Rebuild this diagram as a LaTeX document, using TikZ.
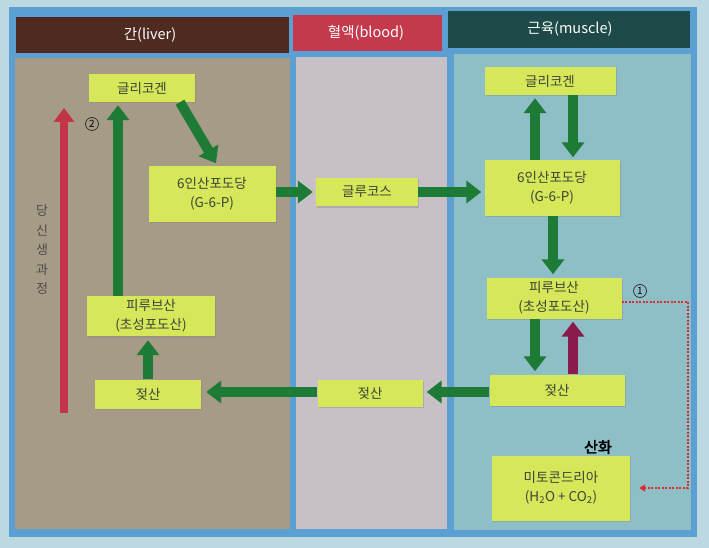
\documentclass[tikz,border=0pt]{standalone}
\usepackage{fontspec}
\setmainfont{Noto Sans CJK KR}
\newfontfamily\handfont[FakeBold=3]{Noto Sans CJK KR}
\usetikzlibrary{arrows.meta,shadows,calc}
\definecolor{outerbg}{HTML}{BCD8E0}
\definecolor{framebl}{HTML}{5B9FD3}
\definecolor{liverhd}{HTML}{4E2A20}
\definecolor{bloodhd}{HTML}{C43A4C}
\definecolor{musclehd}{HTML}{1D4A48}
\definecolor{liverbg}{HTML}{A69B87}
\definecolor{bloodbg}{HTML}{C7C0C7}
\definecolor{musclebg}{HTML}{8EBEC6}
\definecolor{boxfill}{HTML}{D6E75A}
\definecolor{boxtext}{HTML}{3C4438}
\definecolor{arrgreen}{HTML}{1E7B35}
\definecolor{arrred}{HTML}{C23448}
\definecolor{arrmaroon}{HTML}{8A1C4C}
\definecolor{dotred}{HTML}{D83030}
\tikzset{
  box/.style={fill=boxfill, text=boxtext, align=center, inner sep=0pt,
    font=\fontsize{13.5}{19}\selectfont,
    drop shadow={shadow xshift=1pt, shadow yshift=-1.5pt, opacity=0.35}},
  hdr/.style={text=white, font=\fontsize{14.5}{16}\selectfont},
  garrow/.style={draw=arrgreen, line width=10pt, -{Triangle[width=22pt,length=15pt]}},
  rarrow/.style={draw=arrred, line width=8pt, -{Triangle[width=20pt,length=14pt]}},
  marrow/.style={draw=arrmaroon, line width=10pt, -{Triangle[width=22pt,length=15pt]}},
  handcirc/.style={draw=black!80, circle, line width=0.8pt, inner sep=0.5pt,
    minimum size=13pt, font=\fontsize{10}{10}\selectfont},
}
\begin{document}
\begin{tikzpicture}[x=1pt,y=-1pt]
\useasboundingbox (0,0) rectangle (709,548);
\fill[outerbg] (0,0) rectangle (709,548);
% blue frame
\fill[framebl] (9,7) rectangle (697,537);
% headers
\fill[liverhd] (16,17) rectangle (289,53);
\fill[bloodhd] (293,15) rectangle (442,51);
\fill[musclehd] (448,11) rectangle (690,48);
\node[hdr] (hliver) at (150,35) {간(liver)};
\node[hdr] (hblood) at (366,33) {혈액(blood)};
\node[hdr] (hmuscle) at (570,29) {근육(muscle)};
% panels
\fill[liverbg] (15,58) rectangle (290,529);
\fill[bloodbg] (296,57) rectangle (447,529);
\fill[musclebg] (454,54) rectangle (691,530);

% liver nodes
\node[box, minimum width=106pt, minimum height=28pt] (lgly) at (142,88) {글리코겐};
\node[box, minimum width=127pt, minimum height=55pt] (lg6p) at (212,194) {6인산포도당\\(G-6-P)};
\node[box, minimum width=128pt, minimum height=40pt] (lpyr) at (151,316) {피루브산\\(초성포도산)};
\node[box, minimum width=106pt, minimum height=29pt] (llac) at (148,394) {젖산};
% blood nodes
\node[box, minimum width=102pt, minimum height=28pt] (glu) at (367,192) {글루코스};
\node[box, minimum width=105pt, minimum height=27pt] (blac) at (370,393) {젖산};
% muscle nodes
\node[box, minimum width=131pt, minimum height=28pt] (mgly) at (550,81) {글리코겐};
\node[box, minimum width=135pt, minimum height=55pt] (mg6p) at (552,188) {6인산포도당\\(G-6-P)};
\node[box, minimum width=135pt, minimum height=41pt] (mpyr) at (554,298) {피루브산\\(초성포도산)};
\node[box, minimum width=135pt, minimum height=31pt] (mlac) at (557,390) {젖산};
\node[box, minimum width=138pt, minimum height=65pt] (mito) at (561,488) {미토콘드리아\\(H\textsubscript{2}O + CO\textsubscript{2})};

% x / y guide coordinates for straight arrows
\coordinate (xl1) at (118,0);
\coordinate (xl2) at (148,0);
\coordinate (yglu) at (0,192);
\coordinate (xm1) at (535,0);
\coordinate (xm2) at (573,0);
\coordinate (xm3) at (553,0);
\coordinate (ylac) at (0,392);

% liver arrows
\draw[garrow] ([xshift=38pt]lgly.south) -- ([xshift=4pt,yshift=3pt]lg6p.north);
\draw[garrow] (lpyr.north -| xl1) -- ([yshift=-3pt]lgly.south -| xl1);
\draw[garrow] (llac.north -| xl2) -- ([yshift=-4pt]lpyr.south -| xl2);
% gluconeogenesis
\coordinate (gnbot) at (64,413);
\coordinate (gntop) at (64,108);
\draw[rarrow] (gnbot) -- (gntop);
\node[text=black!70, align=center, font=\fontsize{13}{19.5}\selectfont] (gnlabel) at (42,250) {당\\신\\생\\과\\정};
\node[handcirc] (h2) at (92,124) {2};
% liver -> blood -> muscle glucose
\draw[garrow] (lg6p.east |- yglu) -- ([xshift=-3pt]glu.west |- yglu);
\draw[garrow] (glu.east |- yglu) -- ([xshift=-3pt]mg6p.west |- yglu);
% muscle
\draw[garrow] (mg6p.north -| xm1) -- ([yshift=-3pt]mgly.south -| xm1);
\draw[garrow] (mgly.south -| xm2) -- ([yshift=3pt]mg6p.north -| xm2);
\draw[garrow] (mg6p.south -| xm3) -- ([yshift=3pt]mpyr.north -| xm3);
\draw[garrow] (mpyr.south -| xm1) -- ([yshift=3pt]mlac.north -| xm1);
\draw[marrow] (mlac.north -| xm2) -- ([yshift=-3pt]mpyr.south -| xm2);
% lactate back
\draw[garrow] (mlac.west |- ylac) -- ([xshift=4pt]blac.east |- ylac);
\draw[garrow] (blac.west |- ylac) -- ([xshift=5pt]llac.east |- ylac);
% oxidation dotted
\node[handcirc] (h1) at (640,291) {1};
\coordinate (dcorner1) at (688,302);
\coordinate (dcorner2) at (688,488);
\draw[dotred, line width=1.3pt, dash pattern=on 2pt off 1.5pt, -{Triangle[width=7pt,length=6pt]}]
  (mpyr.east |- dcorner1) -- (dcorner1) -- (dcorner2) -- ([xshift=9pt]mito.east);
\node[text=black, font=\fontsize{15}{15}\selectfont\handfont] (sanhwa) at (598,447) {산화};
\end{tikzpicture}
\end{document}
